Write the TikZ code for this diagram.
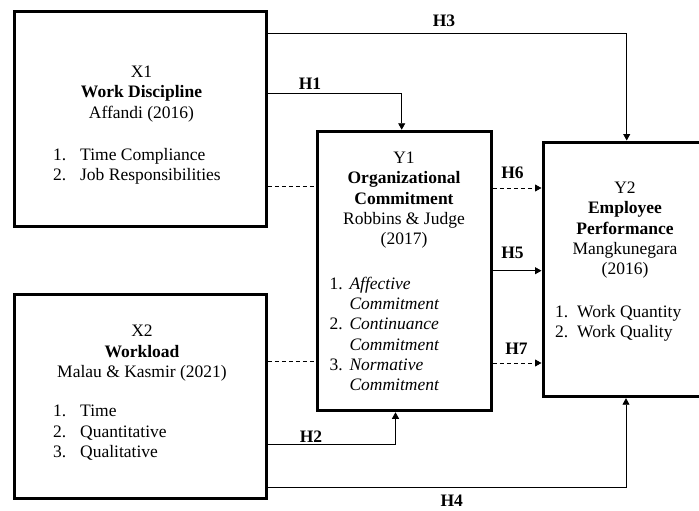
\documentclass[tikz,border=0pt]{standalone}
\usepackage{fontspec}
\setmainfont{Liberation Serif}
\usepackage{tikz}
\usetikzlibrary{calc,positioning,arrows.meta}

\newcommand{\boxfont}{\fontsize{17.5}{20.3}\selectfont}

\tikzset{
    varbox/.style={draw, line width=3pt, inner sep=0pt},
    headtext/.style={align=center, inner sep=0pt, anchor=north},
    listtext/.style={align=left, inner sep=0pt, anchor=north west},
    hlabel/.style={inner sep=0pt, font=\boxfont\bfseries},
    link/.style={line width=0.8pt},
    linkarrow/.style={link, -{Triangle[length=6.5pt,width=7pt]}},
    dashlink/.style={link, dash pattern=on 4pt off 3pt},
    dasharrow/.style={dashlink, -{Triangle[length=6.5pt,width=7pt]}}
}

\begin{document}
\begin{tikzpicture}[x=1pt, y=-1pt, font=\boxfont]
    \useasboundingbox (0,0) rectangle (699,511);

        %%X1
        \node[varbox, minimum width=251.7, minimum height=215] (x1) at (140.6,119) {};
            \node[headtext] (x1head) at (141.5,65.7) {X1\\\textbf{Work Discipline}\\Affandi (2016)};
            \node[listtext] (x1list) at (53,147.7) {\makebox[27pt][l]{1.}Time Compliance\\\makebox[27pt][l]{2.}Job Responsibilities};

        %%X2
        \node[varbox, minimum width=251.7, minimum height=204] (x2) at (140.6,396.8) {};
            \node[headtext] (x2head) at (142,325) {X2\\\textbf{Workload}\\Malau \& Kasmir (2021)};
            \node[listtext] (x2list) at (53,405) {\makebox[27pt][l]{1.}Time\\\makebox[27pt][l]{2.}Quantitative\\\makebox[27pt][l]{3.}Qualitative};

        %%Y1
        \node[varbox, minimum width=174.3, minimum height=279.5] (y1) at (404.3,271) {};
            \node[headtext] (y1head) at (404,151.7) {Y1\\\textbf{Organizational}\\\textbf{Commitment}\\Robbins \& Judge\\(2017)};
            \node[listtext] (y1list) at (329.3,276.7) {\makebox[20pt][l]{1.}\textit{Affective}\\\hspace*{20pt}\textit{Commitment}\\\makebox[20pt][l]{2.}\textit{Continuance}\\\hspace*{20pt}\textit{Commitment}\\\makebox[20pt][l]{3.}\textit{Normative}\\\hspace*{20pt}\textit{Commitment}};

        %%Y2
        \node[varbox, minimum width=157.5, minimum height=254.7] (y2) at (621.75,269.35) {};
            \node[headtext] (y2head) at (625,181.7) {Y2\\\textbf{Employee}\\\textbf{Performance}\\Mangkunegara\\(2016)};
            \node[listtext] (y2list) at (555,305) {\makebox[22pt][l]{1.}Work Quantity\\\makebox[22pt][l]{2.}Work Quality};

        %%rows and columns of the links
        \coordinate (h3row) at (0,33.3);
        \coordinate (h3col) at (626.7,0);
        \coordinate (h1row) at (0,93);
        \coordinate (h1col) at (401.7,0);
        \coordinate (d1row) at (0,186);
        \coordinate (h6row) at (0,188);
        \coordinate (h5row) at (0,270.7);
        \coordinate (d2row) at (0,361);
        \coordinate (h7row) at (0,363);
        \coordinate (h2row) at (0,444.5);
        \coordinate (h2col) at (395.5,0);
        \coordinate (h4row) at (0,487.3);
        \coordinate (h4col) at (626,0);

        %%links
        \draw[linkarrow] (x1.east |- h3row) -| (y2.north -| h3col);
            \node[hlabel] (h3) at (444,21) {H3};
        \draw[linkarrow] (x1.east |- h1row) -| (y1.north -| h1col);
            \node[hlabel] (h1) at (310,83.3) {H1};
        \draw[dashlink] (x1.east |- d1row) -- (y1.west |- d1row);
        \draw[dasharrow] (y1.east |- h6row) -- (y2.west |- h6row);
            \node[hlabel] (h6) at (512.5,172.7) {H6};
        \draw[linkarrow] (y1.east |- h5row) -- (y2.west |- h5row);
            \node[hlabel] (h5) at (512.5,253.3) {H5};
        \draw[dashlink] (x2.east |- d2row) -- (y1.west |- d2row);
        \draw[dasharrow] (y1.east |- h7row) -- (y2.west |- h7row);
            \node[hlabel] (h7) at (516.5,349) {H7};
        \draw[linkarrow] (x2.east |- h2row) -| (y1.south -| h2col);
            \node[hlabel] (h2) at (311,436.7) {H2};
        \draw[linkarrow] (x2.east |- h4row) -| (y2.south -| h4col);
            \node[hlabel] (h4) at (451.7,500.5) {H4};
\end{tikzpicture}
\end{document}
